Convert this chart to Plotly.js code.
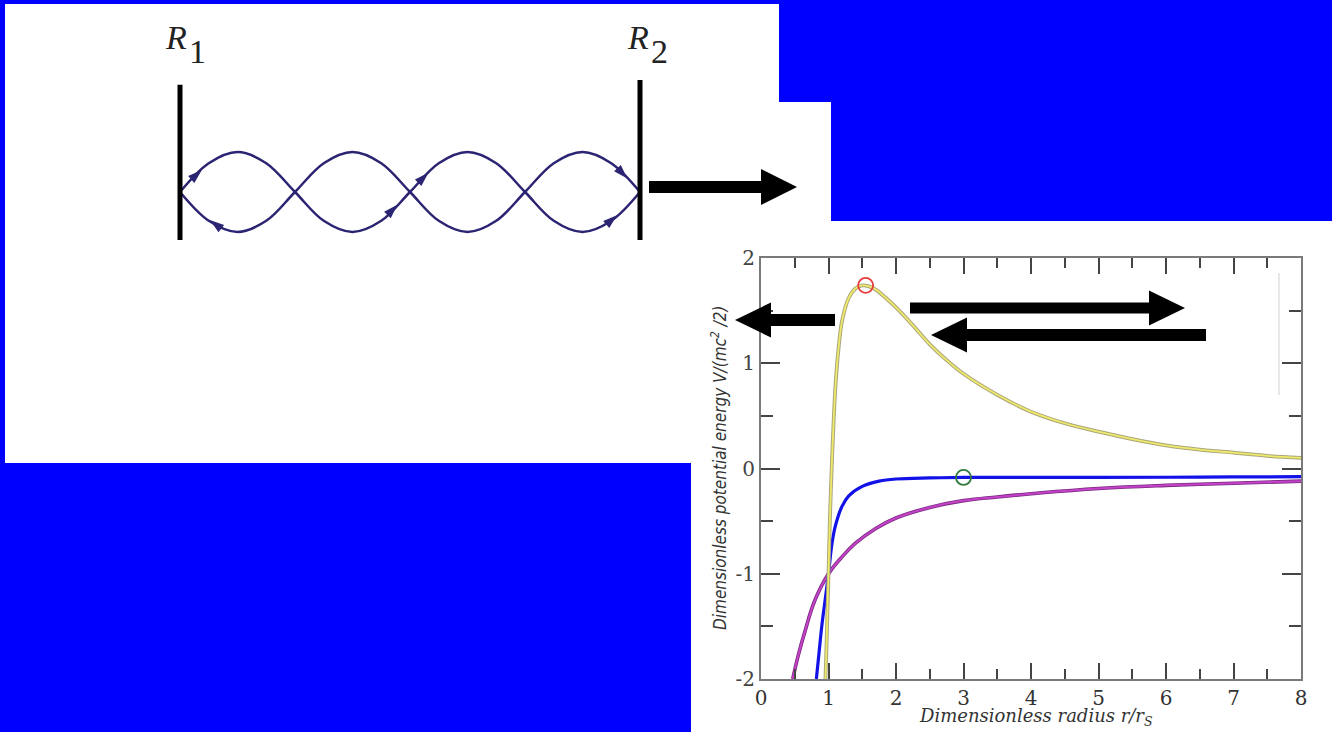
<!DOCTYPE html>
<html>
<head>
<meta charset="utf-8">
<script src="https://cdn.plot.ly/plotly-3.0.1.min.js"></script>
<style>html,body{margin:0;padding:0;background:#0000ff;}#chart{width:1332px;height:732px;}</style>
</head>
<body>
<div id="chart"></div>
<script>
// ---------------- data ----------------
// potential curves: r / r_s  and  V/(mc^2/2)
const yellowR = [0.955,0.97,0.985,1.0,1.02,1.05,1.1,1.15,1.2,1.3,1.4,1.5,1.6,1.7,1.85,2.0,2.25,2.5,2.75,3.0,3.5,4.0,4.5,5.0,5.5,6.0,6.5,7.0,7.5,8.0];
const yellowV = [-2.0,-1.7,-1.35,-1.0,-0.5,0.05,0.75,1.15,1.4,1.62,1.71,1.74,1.73,1.70,1.62,1.53,1.36,1.18,1.03,0.90,0.70,0.54,0.43,0.35,0.28,0.22,0.18,0.15,0.12,0.10];
const blueR = [0.82,0.86,0.9,0.95,1.0,1.05,1.1,1.2,1.3,1.5,1.75,2.0,2.5,3.0,4.0,5.0,6.0,7.0,8.0];
const blueV = [-2.0,-1.75,-1.5,-1.25,-1.0,-0.72,-0.55,-0.36,-0.26,-0.17,-0.12,-0.10,-0.09,-0.085,-0.085,-0.085,-0.083,-0.08,-0.078];
const magentaR = [0.47,0.55,0.65,0.8,1.0,1.2,1.4,1.7,2.0,2.5,3.0,3.5,4.0,5.0,6.0,7.0,8.0];
const magentaV = [-2.0,-1.78,-1.55,-1.25,-1.0,-0.84,-0.71,-0.57,-0.47,-0.37,-0.305,-0.27,-0.24,-0.19,-0.16,-0.14,-0.12];
const peakR = [1.55], peakV = [1.74];          // red circle
const stableR = [3.0], stableV = [-0.085];     // green circle
const xTickVals = [0,1,2,3,4,5,6,7,8];
const xTickText = ['0','1','2','3','4','5','6','7','8'];
const yTickVals = [-2,-1,0,1,2];
const yTickText = ['-2','-1','0','1','2'];

// cavity diagram: position between mirrors (half-wavelength units) and amplitude
const waveX  = [0,0.25,0.5,0.75,1,1.25,1.5,1.75,2,2.25,2.5,2.75,3,3.25,3.5,3.75,4];
const waveA  = [0,0.72,1,0.72,0,-0.72,-1,-0.72,0,0.72,1,0.72,0,-0.72,-1,-0.72,0];
const waveB  = [0,-0.72,-1,-0.72,0,0.72,1,0.72,0,-0.72,-1,-0.72,0,0.72,1,0.72,0];
const mirror1X = [0,0], mirror1Y = [-1.2,2.68];
const mirror2X = [4,4], mirror2Y = [-1.2,2.8];
const headX = [0.19,0.26,1.89,2.16,3.89,3.8];
const headY = [0.55,-0.70,-0.32,0.48,0.34,-0.58];
const headAngle = [48,-53,44,46,136,49];

// ---------------- helpers (pixel -> paper) ----------------
const W = 1332, H = 732;
const fx = x => x / W;
const fy = y => 1 - y / H;
function rect(x0, y0, x1, y1, color, layer) {
  return {type:'rect', xref:'paper', yref:'paper', x0:fx(x0), x1:fx(x1), y0:fy(y1), y1:fy(y0),
          fillcolor:color, line:{width:0}, layer:layer||'below'};
}
function poly(pts, color) {
  const d = pts.map((p,i)=>(i?'L':'M')+fx(p[0]).toFixed(5)+','+fy(p[1]).toFixed(5)).join(' ')+' Z';
  return {type:'path', xref:'paper', yref:'paper', path:d, fillcolor:color, line:{width:0}, layer:'above'};
}
function arrow(xs, xh, xt, yc, sh, hh) {
  return poly([[xs,yc-sh],[xh,yc-sh],[xh,yc-hh],[xt,yc],[xh,yc+hh],[xh,yc+sh],[xs,yc+sh]], '#000');
}

// ---------------- traces ----------------
const traces = [
  {x:magentaR, y:magentaV, mode:'lines', line:{color:'#7a2a80', width:3.6, shape:'spline', smoothing:1.2}, xaxis:'x', yaxis:'y', hoverinfo:'skip'},
  {x:magentaR, y:magentaV, mode:'lines', line:{color:'#c442c8', width:2, shape:'spline', smoothing:1.2}, xaxis:'x', yaxis:'y', hoverinfo:'skip'},
  {x:blueR, y:blueV, mode:'lines', line:{color:'#1212e8', width:3.2, shape:'spline', smoothing:1}, xaxis:'x', yaxis:'y', hoverinfo:'skip'},
  {x:yellowR, y:yellowV, mode:'lines', line:{color:'#aaa67e', width:3.8, shape:'spline', smoothing:0.9}, xaxis:'x', yaxis:'y', hoverinfo:'skip'},
  {x:yellowR, y:yellowV, mode:'lines', line:{color:'#efe96a', width:1.8, shape:'spline', smoothing:0.9}, xaxis:'x', yaxis:'y', hoverinfo:'skip'},
  {x:peakR, y:peakV, mode:'markers', marker:{symbol:'circle-open', size:15, color:'#e83a3a', line:{width:1.8, color:'#e83a3a'}}, xaxis:'x', yaxis:'y', cliponaxis:false},
  {x:stableR, y:stableV, mode:'markers', marker:{symbol:'circle-open', size:15, color:'#2f7a3c', line:{width:1.8, color:'#2f7a3c'}}, xaxis:'x', yaxis:'y', cliponaxis:false},
  // cavity diagram
  {x:waveX, y:waveA, mode:'lines', line:{color:'#2b2472', width:2.5, shape:'spline', smoothing:1}, xaxis:'x2', yaxis:'y2', hoverinfo:'skip'},
  {x:waveX, y:waveB, mode:'lines', line:{color:'#2b2472', width:2.5, shape:'spline', smoothing:1}, xaxis:'x2', yaxis:'y2', hoverinfo:'skip'},
  {x:mirror1X, y:mirror1Y, mode:'lines', line:{color:'#000', width:5}, xaxis:'x2', yaxis:'y2', hoverinfo:'skip'},
  {x:mirror2X, y:mirror2Y, mode:'lines', line:{color:'#000', width:5}, xaxis:'x2', yaxis:'y2', hoverinfo:'skip'},
  {x:headX, y:headY, mode:'markers', marker:{symbol:'arrow', size:15, angle:headAngle, color:'#2b2472', line:{width:0}}, xaxis:'x2', yaxis:'y2', hoverinfo:'skip', cliponaxis:false}
];

// ---------------- layout ----------------
const axisCommon = {showgrid:false, zeroline:false, showline:true, linecolor:'#7a7a7a', linewidth:2,
  mirror:'ticks', ticks:'inside', tickwidth:2, tickcolor:'#444', fixedrange:true};

const layout = {
  width:W, height:H, margin:{l:0,r:0,t:0,b:0},
  paper_bgcolor:'#0000ff', plot_bgcolor:'rgba(0,0,0,0)', showlegend:false,
  xaxis: Object.assign({}, axisCommon, {
    domain:[fx(761), fx(1301)], range:[0,8], anchor:'y',
    tickmode:'array', tickvals:xTickVals, ticktext:xTickText, ticklen:16,
    minor:{dtick:0.5, ticks:'inside', ticklen:10, tickwidth:2, tickcolor:'#444', showgrid:false},
    tickfont:{family:'DejaVu Serif', size:20, color:'#333'}
  }),
  yaxis: Object.assign({}, axisCommon, {
    domain:[fy(679), fy(258)], range:[-2,2], anchor:'x',
    tickmode:'array', tickvals:yTickVals, ticktext:yTickText, ticklen:19,
    minor:{dtick:0.5, ticks:'inside', ticklen:12, tickwidth:2, tickcolor:'#444', showgrid:false},
    tickfont:{family:'DejaVu Serif', size:20, color:'#444'}
  }),
  xaxis2: {domain:[fx(168.5), fx(651.5)], range:[-0.1,4.1], anchor:'y2', visible:false, fixedrange:true},
  yaxis2: {domain:[fy(246), fy(78)], range:[-1.35,2.85], anchor:'x2', visible:false, fixedrange:true},
  shapes: [
    rect(5, 4, 779, 463, '#ffffff'),
    rect(779, 102, 831, 221, '#ffffff'),
    rect(691, 221, 1332, 732, '#ffffff'),
    {type:'line', xref:'paper', yref:'paper', x0:fx(1279), x1:fx(1279), y0:fy(395), y1:fy(273), line:{color:'#cfcfcf', width:1}, layer:'above'},
    arrow(649, 761, 797, 187, 6, 18),
    arrow(835, 771, 735, 320, 6, 17.5),
    arrow(910, 1149, 1185, 308, 5.5, 17.5),
    arrow(1206, 967, 931, 335, 6, 17.5)
  ],
  annotations: [
    {xref:'paper', yref:'paper', x:fx(719), y:fy(468), textangle:-90, showarrow:false, xanchor:'center', yanchor:'middle',
     text:'<i>Dimensionless potential energy V/(mc<sup>2</sup> /2)</i>',
     font:{family:'Liberation Sans Narrow, DejaVu Sans Condensed, sans-serif', size:17, color:'#333'}},
    {xref:'paper', yref:'paper', x:fx(1036), y:fy(717), showarrow:false, xanchor:'center', yanchor:'middle',
     text:'<i>Dimensionless radius r/r<sub>S</sub></i>',
     font:{family:'DejaVu Serif', size:18, color:'#333'}},
    {xref:'paper', yref:'paper', x:fx(189), y:fy(37), showarrow:false, xanchor:'right', yanchor:'middle',
     text:'<i>R</i>', font:{family:'Liberation Serif', size:34, color:'#222'}},
    {xref:'paper', yref:'paper', x:fx(187), y:fy(51), showarrow:false, xanchor:'left', yanchor:'middle',
     text:'1', font:{family:'Liberation Serif', size:34, color:'#222'}},
    {xref:'paper', yref:'paper', x:fx(651), y:fy(37), showarrow:false, xanchor:'right', yanchor:'middle',
     text:'<i>R</i>', font:{family:'Liberation Serif', size:34, color:'#222'}},
    {xref:'paper', yref:'paper', x:fx(649), y:fy(51), showarrow:false, xanchor:'left', yanchor:'middle',
     text:'2', font:{family:'Liberation Serif', size:34, color:'#222'}}
  ]
};

Plotly.newPlot('chart', traces, layout, {displayModeBar:false, staticPlot:true});
</script>
</body>
</html>
